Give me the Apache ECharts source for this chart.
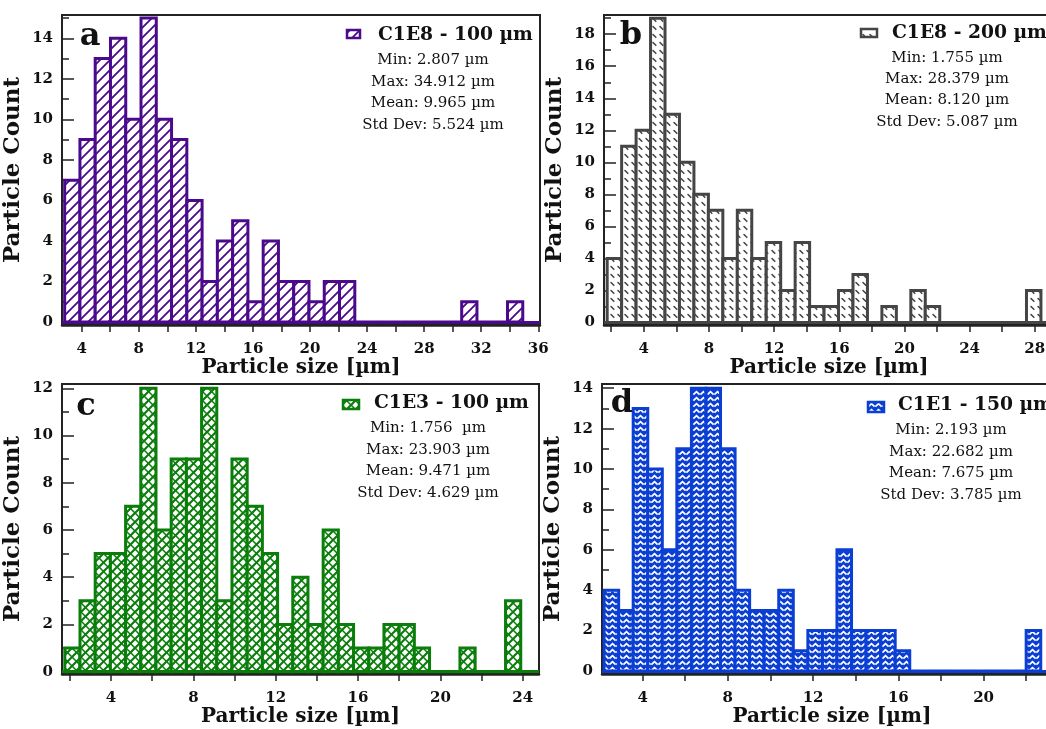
<!DOCTYPE html>
<html><head><meta charset="utf-8">
<script src="https://cdn.jsdelivr.net/npm/echarts@6.0.0/dist/echarts.min.js"></script>
<style>html,body{margin:0;padding:0;background:#fff}#c{width:1046px;height:729px}</style>
</head><body><div id="c"></div>
<script>
// ---------- data ----------
const rangeA = [2.807, 34.912];
const countsA = [7,9,13,14,10,15,10,9,6,2,4,5,1,4,2,2,1,2,2,0,0,0,0,0,0,0,1,0,0,1];
const rangeB = [1.755, 28.379];
const countsB = [4,11,12,19,13,10,8,7,4,7,4,5,2,5,1,1,2,3,0,1,0,2,1,0,0,0,0,0,0,2];
const rangeC = [1.756, 23.903];
const countsC = [1,3,5,5,7,12,6,9,9,12,3,9,7,5,2,4,2,6,2,1,1,2,2,1,0,0,1,0,0,3];
const rangeD = [2.193, 22.682];
const countsD = [4,3,13,10,6,11,14,14,11,4,3,3,4,1,2,2,6,2,2,2,1,0,0,0,0,0,0,0,0,2];

const titleA = 'C1E8 - 100 µm', titleB = 'C1E8 - 200 µm', titleC = 'C1E3 - 100 µm', titleD = 'C1E1 - 150 µm';
const statsA = ['Min: 2.807 µm','Max: 34.912 µm','Mean: 9.965 µm','Std Dev: 5.524 µm'];
const statsB = ['Min: 1.755 µm','Max: 28.379 µm','Mean: 8.120 µm','Std Dev: 5.087 µm'];
const statsC = ['Min: 1.756  µm','Max: 23.903 µm','Mean: 9.471 µm','Std Dev: 4.629 µm'];
const statsD = ['Min: 2.193 µm','Max: 22.682 µm','Mean: 7.675 µm','Std Dev: 3.785 µm'];

const xTicksA = [4,6,8,10,12,14,16,18,20,22,24,26,28,30,32,34,36];
const xLabelsA = [4,8,12,16,20,24,28,32,36];
const xTicksB = [2,4,6,8,10,12,14,16,18,20,22,24,26,28];
const xLabelsB = [4,8,12,16,20,24,28];
const xTicksC = [2,4,6,8,10,12,14,16,18,20,22,24];
const xLabelsC = [4,8,12,16,20,24];
const xTicksD = [4,6,8,10,12,14,16,18,20,22];
const xLabelsD = [4,8,12,16,20];
const yMajorA = [0,2,4,6,8,10,12,14], yMinorA = [1,3,5,7,9,11,13,15];
const yMajorB = [0,2,4,6,8,10,12,14,16,18], yMinorB = [1,3,5,7,9,11,13,15,17,19];
const yMajorC = [0,2,4,6,8,10,12], yMinorC = [1,3,5,7,9,11];
const yMajorD = [0,2,4,6,8,10,12,14], yMinorD = [1,3,5,7,9,11,13];

// ---------- styles ----------
const colA = '#4b0a8c', colB = '#454545', colC = '#0b7d0b', colD = '#0b3fd4';
const FONT = '"DejaVu Serif", "Liberation Serif", serif';
const INK = '#111';

function tile(w, h, bg, draw) {
  const c = document.createElement('canvas'); c.width = w; c.height = h;
  const g = c.getContext('2d'); g.fillStyle = bg; g.fillRect(0, 0, w, h); draw(g, w, h);
  return { image: c, repeat: 'repeat' };
}
const patA = tile(10, 10, '#fff', (g, w, h) => {
  g.strokeStyle = colA; g.lineWidth = 1.8; g.beginPath();
  g.moveTo(-1, h + 1); g.lineTo(w + 1, -1);
  g.moveTo(-1, 1); g.lineTo(1, -1);
  g.moveTo(w - 1, h + 1); g.lineTo(w + 1, h - 1); g.stroke();
});
const patB = tile(7, 8, '#fff', (g) => {
  g.strokeStyle = colB; g.lineWidth = 1.6; g.lineCap = 'round'; g.beginPath();
  g.moveTo(2, 2.5); g.lineTo(4.8, 5.3); g.stroke();
});
const patC = tile(9, 9, '#fff', (g, w, h) => {
  g.strokeStyle = colC; g.lineWidth = 2.2; g.beginPath();
  g.moveTo(-1, h + 1); g.lineTo(w + 1, -1);
  g.moveTo(-1, 1); g.lineTo(1, -1);
  g.moveTo(w - 1, h + 1); g.lineTo(w + 1, h - 1); g.stroke();
  g.lineWidth = 1.5; g.beginPath();
  g.moveTo(-1, -1); g.lineTo(w + 1, h + 1);
  g.moveTo(w - 1, -1); g.lineTo(w + 1, 1);
  g.moveTo(-1, h - 1); g.lineTo(1, h + 1); g.stroke();
});
const patD = tile(7, 6, colD, (g) => {
  g.strokeStyle = '#fff'; g.lineWidth = 1.8; g.beginPath();
  g.moveTo(0.4, 4.7); g.lineTo(3.5, 1.7); g.lineTo(6.6, 4.7); g.stroke();
});

// ---------- panels ----------
const panels = [
  { range: rangeA, counts: countsA, color: colA, pat: patA, grid: { left: 62, top: 15, width: 478, height: 310 }, gap: 32,
    x: [2.62, 36.12], y: [-0.15, 15.15], xt: xTicksA, xl: xLabelsA, ymaj: yMajorA, ymin: yMinorA },
  { range: rangeB, counts: countsB, color: colB, pat: patB, grid: { left: 604, top: 15, width: 450, height: 310 }, gap: 32,
    x: [1.56, 29.18], y: [-0.16, 19.2], xt: xTicksB, xl: xLabelsB, ymaj: yMajorB, ymin: yMinorB },
  { range: rangeC, counts: countsC, color: colC, pat: patC, grid: { left: 62, top: 384, width: 477, height: 290 }, gap: 33,
    x: [1.62, 24.79], y: [-0.1, 12.18], xt: xTicksC, xl: xLabelsC, ymaj: yMajorC, ymin: yMinorC },
  { range: rangeD, counts: countsD, color: colD, pat: patD, grid: { left: 602, top: 384, width: 460, height: 290 }, gap: 33,
    x: [2.095, 23.68], y: [-0.15, 14.21], xt: xTicksD, xl: xLabelsD, ymaj: yMajorD, ymin: yMinorD }
];

const grids = [], xAxes = [], yAxes = [], series = [];
panels.forEach((p, i) => {
  grids.push(Object.assign({ show: true, borderColor: '#222', borderWidth: 2, backgroundColor: 'transparent', containLabel: false, outerBoundsMode: 'none' }, p.grid));
  xAxes.push({
    type: 'value', gridIndex: i, min: p.x[0], max: p.x[1],
    name: 'Particle size [µm]', nameLocation: 'middle', nameGap: p.gap,
    nameTextStyle: { fontFamily: FONT, fontWeight: 'bold', fontSize: 20, color: INK },
    axisLine: { show: true, onZero: false, lineStyle: { color: '#222', width: 2.5 } },
    axisTick: { show: true, inside: false, length: 7, customValues: p.xt, lineStyle: { color: '#222', width: 1.5 } },
    axisLabel: { show: true, customValues: p.xl, margin: 17, fontFamily: FONT, fontWeight: 'bold', fontSize: 15, color: INK },
    splitLine: { show: false }
  });
  yAxes.push({
    type: 'value', gridIndex: i, min: p.y[0], max: p.y[1], position: 'left',
    name: 'Particle Count', nameLocation: 'middle', nameGap: 37,
    nameTextStyle: { fontFamily: FONT, fontWeight: 'bold', fontSize: 23, color: INK },
    axisLine: { show: true, onZero: false, lineStyle: { color: '#222', width: 2 } },
    axisTick: { show: true, inside: true, length: 12, customValues: p.ymaj, lineStyle: { color: '#222', width: 1.5 } },
    axisLabel: { show: true, customValues: p.ymaj, margin: 9, fontFamily: FONT, fontWeight: 'bold', fontSize: 15, color: INK },
    splitLine: { show: false }
  });
  yAxes.push({
    type: 'value', gridIndex: i, min: p.y[0], max: p.y[1], position: 'left', offset: 0,
    axisLine: { show: false },
    axisTick: { show: true, inside: true, length: 7, customValues: p.ymin, lineStyle: { color: '#222', width: 1.5 } },
    axisLabel: { show: false }, splitLine: { show: false }
  });
  const n = p.counts.length, w = (p.range[1] - p.range[0]) / n;
  const data = p.counts.map((c, k) => [p.range[0] + k * w, p.range[0] + (k + 1) * w, c]);
  const fill = p.pat, color = p.color;
  series.push({
    type: 'custom', xAxisIndex: i, yAxisIndex: 2 * i, silent: true,
    encode: { x: [0, 1], y: 2 },
    data: data,
    renderItem: function (params, api) {
      const p0 = api.coord([api.value(0), 0]);
      const p1 = api.coord([api.value(1), api.value(2)]);
      return { type: 'rect', shape: { x: p0[0], y: p1[1], width: p1[0] - p0[0], height: p0[1] - p1[1] },
        style: { fill: fill, stroke: color, lineWidth: 3 } };
    },
    markLine: { silent: true, symbol: 'none', label: { show: false }, animation: false,
      lineStyle: { color: color, width: 3, type: 'solid' }, data: [{ yAxis: 0 }] }
  });
});

// ---------- annotations ----------
const graphics = [];
function txt(x, y, text, font, align) {
  graphics.push({ type: 'text', x: x, y: y, silent: true,
    style: { text: text, font: font, fill: INK, align: align || 'center', verticalAlign: 'middle' } });
}
const notes = [
  { L: 'a', lx: 90, ly: 37, sw: [347, 30, 13, 8], title: titleA, tx: 378, ty: 35, stats: statsA, sx: 433, sy: 60, dy: 21.7, p: 0 },
  { L: 'b', lx: 631, ly: 36, sw: [861, 29, 16, 8], title: titleB, tx: 892, ty: 33, stats: statsB, sx: 947, sy: 58, dy: 21.3, p: 1 },
  { L: 'c', lx: 86, ly: 407, sw: [343, 400, 16, 9], title: titleC, tx: 374, ty: 403, stats: statsC, sx: 428, sy: 428, dy: 21.7, p: 2 },
  { L: 'd', lx: 622, ly: 404, sw: [868, 402, 16, 10], title: titleD, tx: 898, ty: 405, stats: statsD, sx: 951, sy: 430, dy: 21.7, p: 3 }
];
notes.forEach(n => {
  const p = panels[n.p];
  txt(n.lx, n.ly, n.L, 'bold 32px ' + FONT, 'center');
  graphics.push({ type: 'rect', silent: true, shape: { x: n.sw[0], y: n.sw[1], width: n.sw[2], height: n.sw[3] },
    style: { fill: p.pat, stroke: p.color, lineWidth: 2.5 } });
  txt(n.tx, n.ty, n.title, 'bold 18.7px ' + FONT, 'left');
  n.stats.forEach((s, k) => txt(n.sx, n.sy + k * n.dy, s, '15px ' + FONT, 'center'));
});

const chart = echarts.init(document.getElementById('c'), null, { renderer: 'canvas' });
chart.setOption({
  animation: false,
  backgroundColor: '#fff',
  grid: grids, xAxis: xAxes, yAxis: yAxes, series: series,
  graphic: graphics
});
</script>
</body></html>
